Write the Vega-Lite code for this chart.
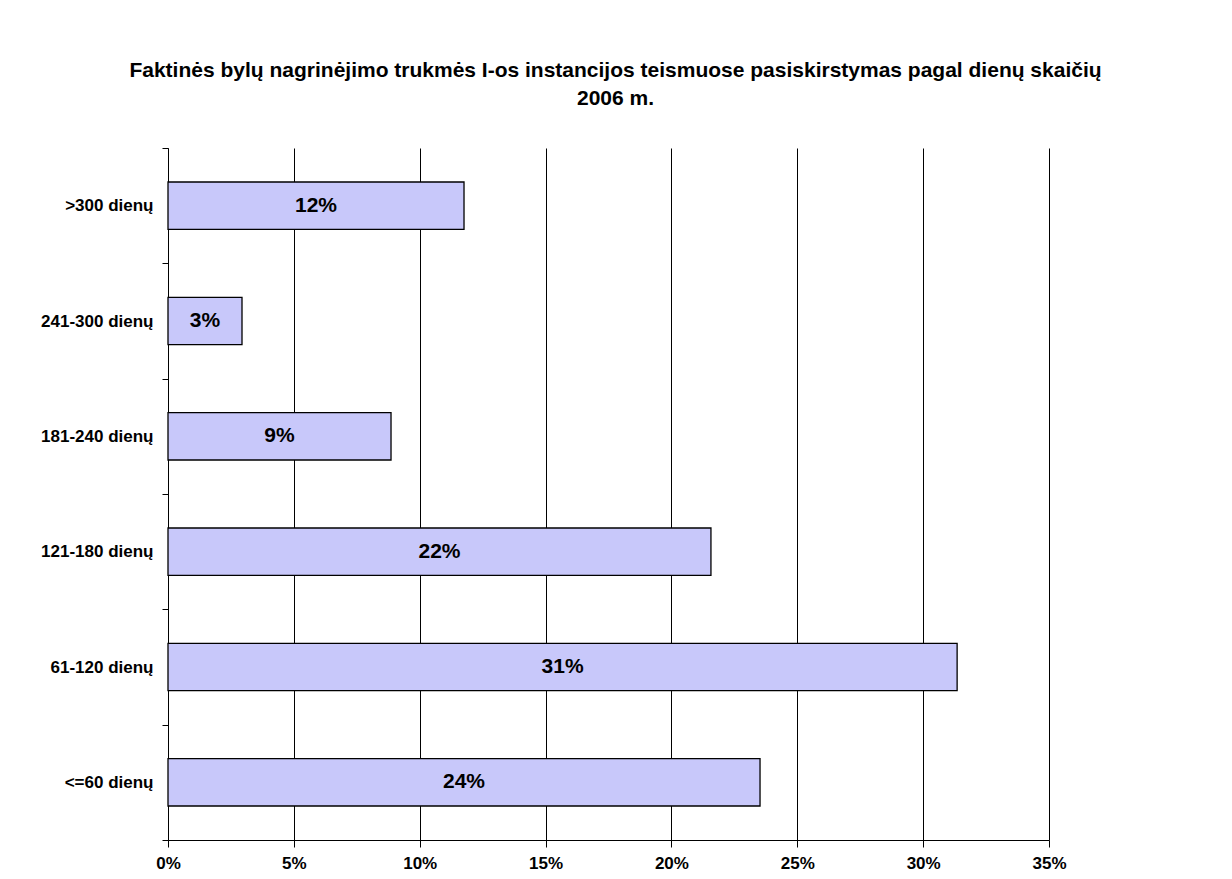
{
  "$schema": "https://vega.github.io/schema/vega-lite/v6.json",
  "width": 881,
  "height": 692,
  "autosize": "none",
  "padding": {"left": 168, "top": 148, "right": 183, "bottom": 39},
  "background": "white",
  "title": {
    "text": ["Faktinės bylų nagrinėjimo trukmės I-os instancijos teismuose pasiskirstymas pagal dienų skaičių", "2006 m."],
    "font": "Liberation Sans",
    "fontSize": 21,
    "fontWeight": "bold",
    "color": "black",
    "anchor": "middle",
    "frame": "group",
    "dx": 7,
    "offset": 30,
    "lineHeight": 28
  },
  "config": {
    "view": {"stroke": null},
    "axis": {
      "labelFont": "Liberation Sans",
      "labelFontSize": 17,
      "labelFontWeight": "bold",
      "labelColor": "black",
      "domainColor": "black",
      "tickColor": "black",
      "gridColor": "black",
      "gridOpacity": 1,
      "title": null
    }
  },
  "data": {
    "values": [
      {"kategorija": ">300 dienų", "dalis": 0.1176},
      {"kategorija": "241-300 dienų", "dalis": 0.0294},
      {"kategorija": "181-240 dienų", "dalis": 0.0886},
      {"kategorija": "121-180 dienų", "dalis": 0.2157},
      {"kategorija": "61-120 dienų", "dalis": 0.3135},
      {"kategorija": "<=60 dienų", "dalis": 0.2352}
    ]
  },
  "transform": [{"calculate": "datum.dalis / 2", "as": "vidurys"}],
  "encoding": {
    "y": {
      "field": "kategorija",
      "type": "nominal",
      "sort": [">300 dienų", "241-300 dienų", "181-240 dienų", "121-180 dienų", "61-120 dienų", "<=60 dienų"],
      "scale": {"paddingInner": 0, "paddingOuter": 0},
      "axis": {
        "tickBand": "extent",
        "tickSize": 6,
        "labelPadding": 9,
        "grid": false,
        "domain": true
      }
    }
  },
  "layer": [
    {
      "mark": {"type": "bar", "height": {"band": 0.41}, "fill": "#c8c8fa", "stroke": "black", "strokeWidth": 1.3},
      "encoding": {
        "x": {
          "field": "dalis",
          "type": "quantitative",
          "scale": {"domain": [0, 0.35], "nice": false},
          "axis": {
            "format": ".0%",
            "values": [0, 0.05, 0.1, 0.15, 0.2, 0.25, 0.3, 0.35],
            "grid": true,
            "tickSize": 7,
            "labelPadding": 8,
            "labelFlush": false
          }
        }
      }
    },
    {
      "mark": {"type": "text", "font": "Liberation Sans", "fontSize": 21, "fontWeight": "bold", "color": "black", "align": "center", "baseline": "middle"},
      "encoding": {
        "x": {"field": "vidurys", "type": "quantitative"},
        "text": {"field": "dalis", "type": "quantitative", "format": ".0%"}
      }
    }
  ]
}
